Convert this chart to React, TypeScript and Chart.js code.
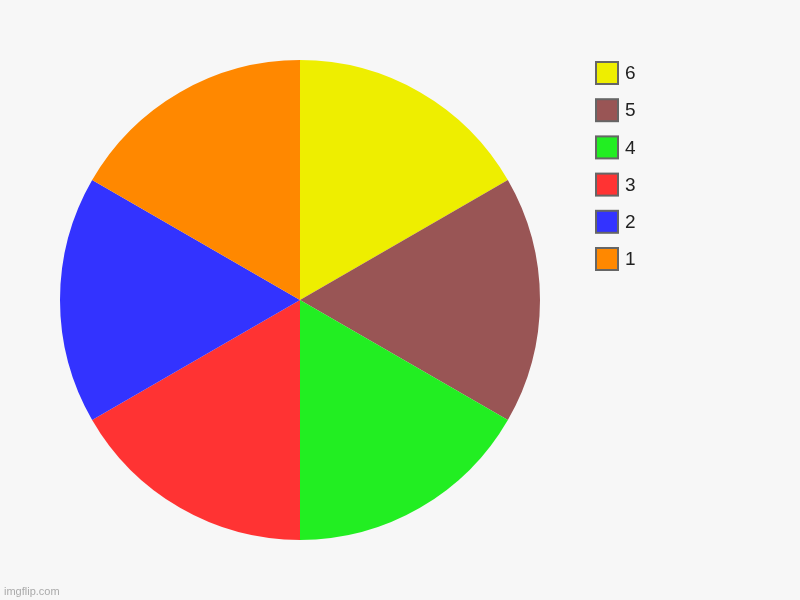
import React, { useEffect, useRef } from "react";
import { Chart, registerables } from "chart.js";

Chart.register(...registerables);

const labels = ["6", "5", "4", "3", "2", "1"];
const values = [1, 1, 1, 1, 1, 1];
const colors = ["#eeee00", "#995555", "#22ee22", "#ff3333", "#3333ff", "#ff8800"];

const legendPlugin = {
  id: "customLegend",
  afterDraw(chart: any) {
    const ctx = chart.ctx;
    const ds = chart.data.datasets[0];
    ctx.save();
    chart.data.labels.forEach((lab: string, i: number) => {
      const cy = 73 + i * 37.2;
      ctx.fillStyle = ds.backgroundColor[i];
      ctx.fillRect(596, cy - 11, 22, 22);
      ctx.strokeStyle = "#666666";
      ctx.lineWidth = 2;
      ctx.strokeRect(596, cy - 11, 22, 22);
      ctx.fillStyle = "#222222";
      ctx.font = "19px 'Liberation Sans', Arial, sans-serif";
      ctx.textBaseline = "middle";
      ctx.textAlign = "left";
      ctx.fillText(lab, 625, cy + 1);
    });
    ctx.fillStyle = "#aaaaaa";
    ctx.font = "11px 'Liberation Sans', Arial, sans-serif";
    ctx.textBaseline = "alphabetic";
    ctx.fillText("imgflip.com", 4, 595);
    ctx.restore();
  },
};

const bgPlugin = {
  id: "bg",
  beforeDraw(chart: any) {
    const ctx = chart.ctx;
    ctx.save();
    ctx.fillStyle = "#f7f7f7";
    ctx.fillRect(0, 0, chart.width, chart.height);
    ctx.restore();
  },
};

export default function App() {
  const ref = useRef<HTMLCanvasElement>(null);
  useEffect(() => {
    const chart = new Chart(ref.current!, {
      type: "pie",
      data: {
        labels,
        datasets: [
          {
            data: values,
            backgroundColor: colors,
            borderWidth: 0,
          },
        ],
      },
      options: {
        animation: false,
        responsive: false,
        layout: { padding: { top: 60, bottom: 60, left: 60, right: 260 } },
        plugins: { legend: { display: false }, tooltip: { enabled: false } },
      },
      plugins: [bgPlugin, legendPlugin],
    });
    return () => chart.destroy();
  }, []);
  return (
    <div style={{ position: "fixed", left: 0, top: 0, width: 800, height: 600 }}>
      <canvas ref={ref} width={800} height={600} style={{ width: 800, height: 600 }} />
    </div>
  );
}
